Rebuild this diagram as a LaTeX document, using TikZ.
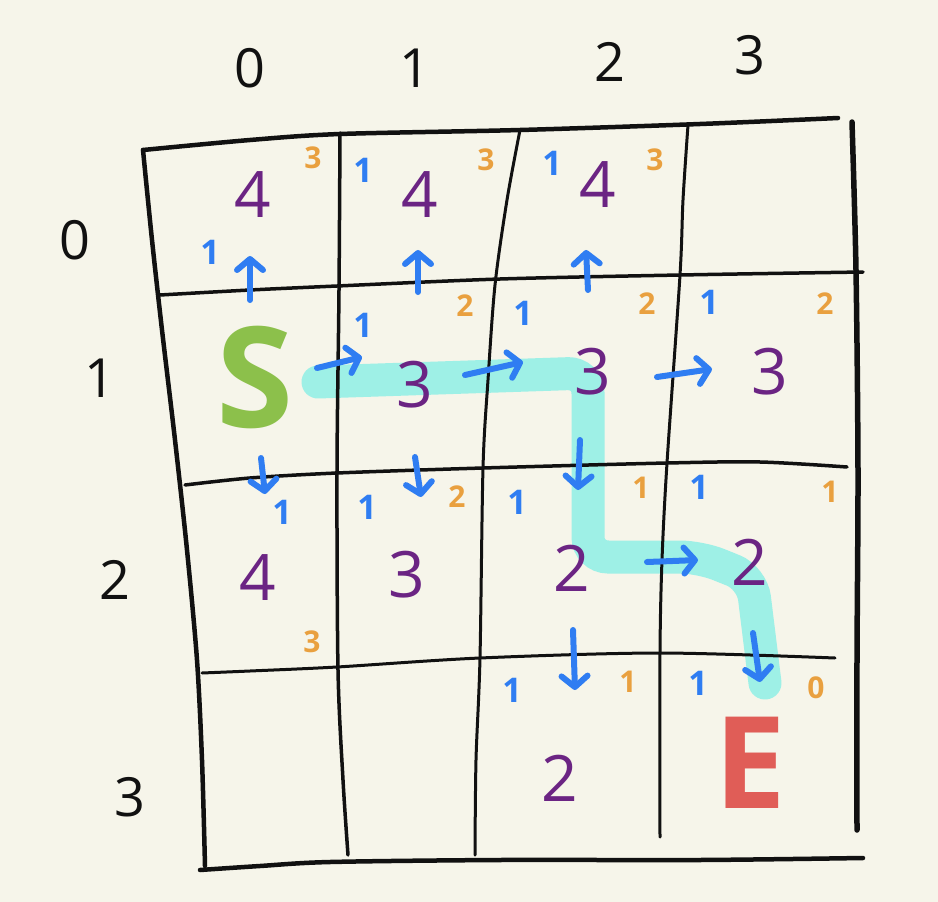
\documentclass[tikz,border=0pt]{standalone}
\usepackage{fontspec}
\setmainfont{Open Sans}
\usetikzlibrary{arrows.meta}

\definecolor{paper}{HTML}{F6F5EA}
\definecolor{ink}{HTML}{111111}
\definecolor{plum}{HTML}{6B2483}
\definecolor{amber}{HTML}{E9A03F}
\definecolor{sky}{HTML}{2F7DF2}
\definecolor{leaf}{HTML}{8CC04B}
\definecolor{brick}{HTML}{E05D57}
\definecolor{mint}{HTML}{9EF0E6}

\begin{document}
\begin{tikzpicture}[x=1pt, y=-1pt,
  pen/.style={draw=ink, line width=#1, line cap=round, line join=round},
  route/.style={draw=mint, line width=33pt, line cap=round, rounded corners=20pt},
  walk/.style={draw=sky, line width=6pt, line cap=round,
               -{Straight Barb[length=11pt, width=26pt, round]}},
  gval/.style={text=plum, font=\fontsize{64}{64}\selectfont},
  hval/.style={text=amber, font=\fontsize{30}{30}\selectfont\bfseries},
  cval/.style={text=sky, font=\fontsize{34}{34}\selectfont\bfseries},
  axis/.style={text=ink, font=\fontsize{54}{54}\selectfont}]

\fill[paper] (0,0) rectangle (938,902);
\useasboundingbox (0,0) rectangle (938,902);

% path found
\draw[route] (318,382) -- (588,373) -- (588,557) -- (700,557) -- (752,578) -- (765,683);

% grid, outer border
\draw[pen=4.5pt] plot[smooth] coordinates {(143,150) (250,140) (340,134) (520,130) (700,124) (838,118)};
\draw[pen=4.5pt] plot[smooth] coordinates {(143,150) (152,240) (162,330) (175,440) (187,550) (197,660) (202,760) (205,866)};
\draw[pen=5.5pt] plot[smooth] coordinates {(852,122) (856,270) (858,470) (857,660) (857,830)};
\draw[pen=4.5pt] plot[smooth] coordinates {(200,870) (260,866) (330,862) (500,860) (700,860) (863,858)};

% grid, inner lines
\draw[pen=3.5pt] plot[smooth] coordinates {(160,295) (250,290) (337,286) (500,279) (680,275) (863,272)};
\draw[pen=3.5pt] plot[smooth] coordinates {(185,485) (250,478) (337,473) (483,468) (667,463) (760,462) (847,467)};
\draw[pen=3pt] plot[smooth] coordinates {(202,673) (250,671) (337,667) (480,658) (660,653) (835,658)};
\draw[pen=3.5pt] plot[smooth] coordinates {(340,133) (339,290) (337,470) (338,670) (343,780) (348,855)};
\draw[pen=3pt] plot[smooth] coordinates {(520,130) (507,200) (495,285) (488,380) (483,468) (480,658) (476,760) (475,855)};
\draw[pen=3pt] plot[smooth] coordinates {(688,125) (683,200) (680,275) (667,463) (662,560) (660,653) (660,837)};

% axis labels
\foreach \c/\x/\y in {0/250/68, 1/415/68, 2/610/62, 3/750/55}
  \node[axis] (col\c) at (\x,\y) {\c};
\foreach \r/\x/\y in {0/75/240, 1/100/378, 2/115/580, 3/130/797}
  \node[axis] (row\r) at (\x,\y) {\r};

% cell values
\foreach \r/\c/\x/\y/\v in {0/0/253/195/4, 0/1/420/195/4, 0/2/598/185/4,
    1/1/415/385/3, 1/2/593/372/3, 1/3/770/372/3,
    2/0/258/578/4, 2/1/407/575/3, 2/2/572/568/2, 2/3/750/562/2,
    3/2/560/778/2}
  \node[gval] (g\r\c) at (\x,\y) {\v};

\foreach \r/\c/\x/\y/\v in {0/0/313/158/3, 0/1/486/160/3, 0/2/655/160/3,
    1/1/465/306/2, 1/2/647/304/2, 1/3/825/304/2,
    2/0/312/642/3, 2/1/457/497/2, 2/2/641/488/1, 2/3/830/492/1,
    3/2/628/682/1, 3/3/816/688/0}
  \node[hval] (h\r\c) at (\x,\y) {\v};

\foreach \r/\c/\x/\y in {0/0/210/252, 0/1/363/170, 0/2/552/163,
    1/1/363/325, 1/2/523/313, 1/3/709/302,
    2/0/282/512, 2/1/367/507, 2/2/517/502, 2/3/699/487,
    3/2/512/690, 3/3/698/683}
  \node[cval] (c\r\c) at (\x,\y) {1};

\node[text=leaf, font=\fontsize{140}{140}\selectfont\bfseries] (start) at (255,377) {S};
\node[text=brick, font=\fontsize{128}{128}\selectfont\bfseries] (goal) at (750,763) {E};

% moves
\foreach \xa/\ya/\xb/\yb in {250/300/250/256, 418/292/418/250, 588/290/586/250,
    317/368/362/357, 465/375/523/362, 657/377/712/369, 647/562/698/560,
    261/458/265/494, 415/457/421/497, 580/440/578/490, 573/630/575/690,
    753/633/760/682}
  \draw[walk] (\xa,\ya) -- (\xb,\yb);

\end{tikzpicture}
\end{document}
